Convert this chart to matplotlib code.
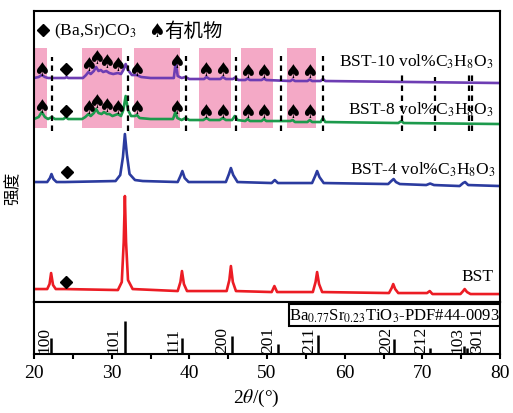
import matplotlib
matplotlib.use("Agg")
import matplotlib.pyplot as plt
from matplotlib.patches import Rectangle

plt.rcParams['font.family'] = ['Liberation Serif', 'DejaVu Sans']
plt.rcParams['mathtext.fontset'] = 'stix'

# ---- curves (2theta, intensity offset) ----
bst_x = [20, 21.7, 22.0, 22.2, 22.45, 22.8, 24.0, 30.8, 31.3, 31.55, 31.7, 31.85, 32.1, 32.7,
         38.5, 38.85, 39.05, 39.3, 39.7, 44.8, 45.15, 45.35, 45.6, 46.0, 50.6, 50.95, 51.3,
         55.9, 56.25, 56.45, 56.7, 57.1, 65.7, 66.05, 66.25, 66.5, 66.9, 70.6, 70.95, 71.3,
         74.9, 75.25, 75.45, 75.75, 76.2, 80]
bst_y = [13, 13, 18, 29, 17, 13, 13, 12, 20, 60, 106, 60, 22, 13,
         11, 20, 31, 18, 11, 11, 22, 36, 20, 11, 10, 16, 10,
         10, 20, 30, 18, 10, 9, 14, 18, 13, 9, 9, 11, 8,
         8, 11, 13, 10, 8, 8]

bst4_x = [20, 21.7, 22.05, 22.25, 22.5, 22.9, 24, 30.5, 31.1, 31.45, 31.7, 31.95, 32.3, 33.0, 34,
          38.5, 38.85, 39.1, 39.4, 39.9, 44.7, 45.1, 45.35, 45.65, 46.2, 50.6, 51.0, 51.4,
          55.8, 56.2, 56.45, 56.75, 57.3, 65.6, 66.0, 66.3, 66.6, 67.1, 70.5, 71.0, 71.5,
          74.8, 75.25, 75.5, 75.9, 80]
bst4_y = [120, 120, 124, 128, 123, 120, 120, 121, 127, 145, 168, 148, 128, 122, 121,
          120, 126, 131, 124, 120, 120, 128, 134, 127, 120, 119, 122, 119,
          119, 126, 131, 125, 119, 118, 121, 123, 120, 118, 117, 118.5, 117,
          116, 119, 120, 117, 116]

bst8_x = [20, 20.6, 21.0, 21.4, 21.8, 22.3, 22.7, 23.8, 24.1, 24.4, 26.2, 26.6, 27.0, 27.3, 27.7,
          28.0, 28.3, 28.7, 29.0, 29.4, 29.7, 30.1, 30.8, 31.2, 31.5, 31.8, 32.1, 32.5, 33.0,
          33.25, 33.6, 35.0, 37.9, 38.2, 38.45, 39.0, 39.5, 40.0, 41.8, 42.2, 42.6, 43.9, 44.3,
          44.7, 45.5, 45.85, 46.2, 47.2, 47.5, 47.8, 49.3, 49.6, 49.9, 53.0, 53.3, 53.6, 55.2,
          55.5, 55.8, 56.9, 57.2, 57.5, 66.9, 67.3, 67.6, 80]
bst8_y = [183, 185, 190, 185, 183, 185, 183, 183, 185, 183, 183, 185, 188, 186, 189,
          193, 189, 188, 190, 188, 188, 186, 188, 186, 192, 206, 192, 186, 186,
          187, 184, 183, 183, 190, 184, 182, 184, 182, 182, 184, 182, 182, 184,
          182, 182, 186, 182, 181, 183, 181, 181, 183, 181, 181, 182, 180, 180,
          182, 180, 180, 184, 180, 179, 181, 179, 178]

bst10_x = [20, 20.6, 21.0, 21.4, 21.8, 24.0, 24.2, 24.4, 26.3, 26.7, 27.0, 27.3, 27.7, 28.0,
           28.3, 28.6, 28.9, 29.3, 29.7, 30.2, 30.8, 31.2, 31.5, 31.8, 32.1, 32.6, 33.2, 33.8,
           35, 38.0, 38.25, 38.5, 39.0, 39.5, 40.0, 41.9, 42.2, 42.6, 44.0, 44.3, 44.7, 45.6,
           45.9, 46.3, 47.2, 47.5, 47.8, 49.3, 49.6, 49.9, 53.0, 53.3, 53.6, 55.2, 55.5, 55.8,
           56.9, 57.2, 57.5, 80]
bst10_y = [224, 225, 227, 225, 224, 224, 225, 224, 224, 227, 230, 228, 231, 235,
           231, 232, 230, 231, 229, 228, 229, 228, 232, 238, 232, 227, 227, 225,
           224, 224, 240, 226, 224, 225, 223, 223, 225, 223, 223, 225, 223, 223,
           224.5, 222, 222, 223.5, 222, 222, 223.5, 222, 221, 222.5, 221, 221, 222.5, 221,
           221, 223, 221, 219]

# ---- shaded organic regions, dashed reference lines ----
pink_start = [20.15, 26.2, 32.9, 41.2, 46.6, 52.6]
pink_end = [21.7, 31.3, 38.8, 45.4, 50.8, 56.3]
dash_x = [22.3, 32.1, 39.55, 46.0, 51.8, 57.2, 67.35, 71.6, 75.98, 76.37]
dash_top = [245, 246, 246, 245, 246, 246, 230, 225, 230, 230]

# ---- markers ----
spade_x = [21.0, 27.0, 28.0, 29.3, 30.8, 33.2, 38.3, 42.1, 44.3, 47.5, 49.6, 53.3, 55.5]
spade_y10 = [233, 238, 245, 241, 238, 233, 241, 233, 233, 231, 231, 231, 231]
spade_y8 = [196, 195, 201, 197, 195, 195, 195, 191, 191, 191, 191, 191, 191]
diamond_x = [24.1, 24.1, 24.2, 24.1]
diamond_y = [233, 191, 130, 20]

# ---- PDF card ----
pdf_pos = [22.2, 31.7, 39.1, 45.5, 51.4, 56.5, 66.3, 71.0, 75.4, 75.7, 80.0]
pdf_int = [31, 63, 31, 35, 19, 37, 29, 12, 15, 12, 12]
hkl = ['100', '101', '111', '200', '201', '211', '202', '212', '103', '301']
hkl_x = [21.3, 30.2, 37.9, 44.3, 50.1, 55.5, 65.4, 69.9, 74.5, 77.0]

fig = plt.figure(figsize=(5.13, 4.14), dpi=100)
ax = fig.add_axes([0.0663, 0.268, 0.9084, 0.703])
ax2 = fig.add_axes([0.0663, 0.1425, 0.9084, 0.1256], sharex=ax)

for a, b in zip(pink_start, pink_end):
    ax.axvspan(a, b, ymin=174 / 291, ymax=254 / 291, color='#f4a9c6', lw=0, zorder=0)

ax.plot(bst_x, bst_y, color='#ec1c24', lw=1.9)
ax.plot(bst4_x, bst4_y, color='#2b3b9f', lw=1.9)
ax.plot(bst8_x, bst8_y, color='#1c9a4c', lw=1.9)
ax.plot(bst10_x, bst10_y, color='#6d3db3', lw=1.9)

ax.vlines(dash_x, 171, dash_top, colors='black', lw=1.6, linestyles=(0, (2.5, 2)), zorder=3)

for x, y in zip(spade_x, spade_y10):
    ax.text(x, y, '♠', family='DejaVu Sans', fontsize=13.5, ha='center', va='center')
for x, y in zip(spade_x, spade_y8):
    ax.text(x, y, '♠', family='DejaVu Sans', fontsize=13.5, ha='center', va='center')
ax.plot(diamond_x, diamond_y, 'D', color='black', markersize=6.5, ls='none')

# legend
ax.plot([21.2], [272], 'D', color='black', markersize=6.5)
ax.text(22.6, 272, '(Ba,Sr)CO$_3$', fontsize=12.5, va='center')
ax.text(35.8, 272, '♠', family='DejaVu Sans', fontsize=13.5, ha='center', va='center')
ax.text(36.8, 272, '有机物', family=['Noto Sans CJK SC'], fontsize=14, va='center')

# sample labels
ax.text(79.2, 241, 'BST-10 vol%C$_3$H$_8$O$_3$', fontsize=12.5, ha='right', va='center')
ax.text(79.2, 193, 'BST-8 vol%C$_3$H$_8$O$_3$', fontsize=12.5, ha='right', va='center')
ax.text(79.5, 133, 'BST-4 vol%C$_3$H$_8$O$_3$', fontsize=12.5, ha='right', va='center')
ax.text(79.2, 26, 'BST', fontsize=12.5, ha='right', va='center')

ax.set_xlim(20, 80)
ax.set_ylim(0, 291)
ax.set_yticks([])
ax.tick_params(axis='x', bottom=False, labelbottom=False)
for s in ax.spines.values():
    s.set_linewidth(1.5)

# PDF sticks
ax2.vlines(pdf_pos, 0, pdf_int, colors='black', lw=1.8)
for t, x in zip(hkl, hkl_x):
    ax2.text(x, 3, t, rotation=90, fontsize=12.5, ha='center', va='bottom')
ax2.add_patch(Rectangle((0.547, 0.54), 0.453, 0.42, transform=ax2.transAxes,
                        fill=False, lw=1.5, ec='black'))
ax2.text(0.7735, 0.75, 'Ba$_{0.77}$Sr$_{0.23}$TiO$_3$-PDF#44-0093', transform=ax2.transAxes,
         fontsize=12, ha='center', va='center')
ax2.set_ylim(0, 100)
ax2.set_yticks([])
ax2.set_xticks(range(20, 81, 10))
ax2.set_xticks(range(25, 80, 10), minor=True)
ax2.tick_params(axis='x', which='both', direction='out', length=3.5, width=1.5, labelsize=14)
for s in ax2.spines.values():
    s.set_linewidth(1.5)

fig.text(0.5, 0.038, '2$\\theta$/(°)', fontsize=14, ha='center', va='center')
fig.text(13 / 513, 1 - 188 / 414, '强度', family=['Noto Sans CJK SC'], fontsize=12,
         rotation=90, ha='center', va='center')

fig.savefig('out.png', dpi=100)
